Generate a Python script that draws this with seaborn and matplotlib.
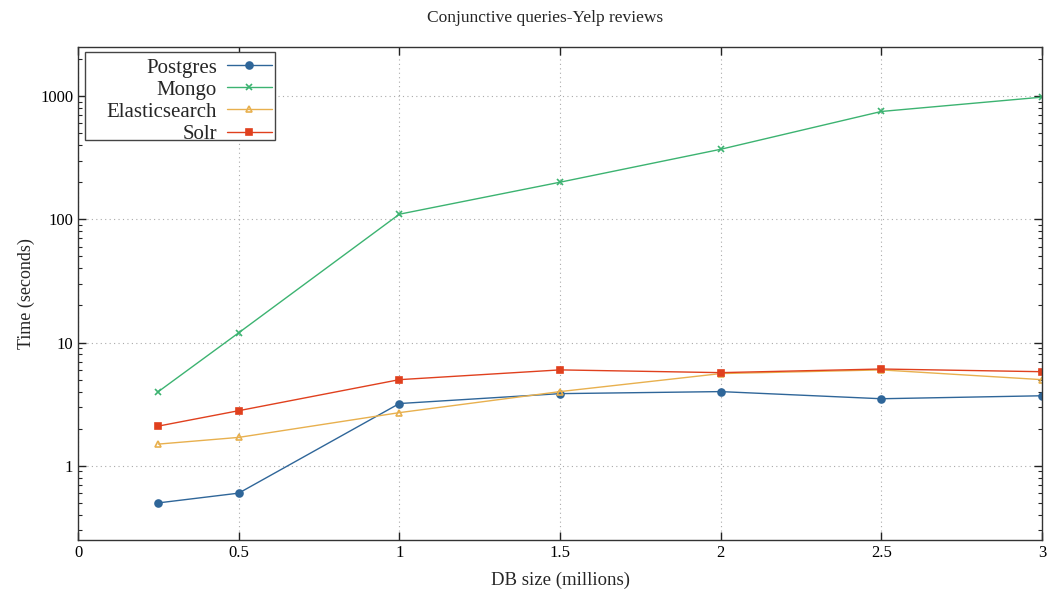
import matplotlib
matplotlib.use("Agg")
import matplotlib.pyplot as plt
import seaborn as sns
import pandas as pd
from matplotlib.patches import Rectangle
from matplotlib.ticker import LogLocator, FixedLocator, NullFormatter

sizes = [0.25, 0.5, 1, 1.5, 2, 2.5, 3]
postgres = [0.5, 0.6, 3.2, 3.85, 4.0, 3.5, 3.7]
mongo = [4, 12, 110, 200, 370, 750, 980]
elasticsearch = [1.5, 1.7, 2.7, 4.0, 5.6, 6.0, 5.0]
solr = [2.1, 2.8, 5.0, 6.0, 5.7, 6.1, 5.8]
series_names = ["Postgres", "Mongo", "Elasticsearch", "Solr"]
x_ticks = [0, 0.5, 1, 1.5, 2, 2.5, 3]
x_tick_labels = ["0", "0.5", "1", "1.5", "2", "2.5", "3"]
y_ticks = [1, 10, 100, 1000]
y_tick_labels = ["1", "10", "100", "1000"]

sns.set_theme(style="ticks")
plt.rcParams["font.family"] = ["Liberation Serif", "DejaVu Serif"]

colors = {"Postgres": "#2f6699", "Mongo": "#3cb371", "Elasticsearch": "#e8b04e", "Solr": "#e0401e"}
markers = {"Postgres": "o", "Mongo": "x", "Elasticsearch": "^", "Solr": "s"}
marker_fill = {"Postgres": None, "Mongo": None, "Elasticsearch": "none", "Solr": None}

fig = plt.figure(figsize=(10.49, 5.99), dpi=100)
ax = fig.add_axes([0.0744, 0.0985, 0.9189, 0.823])

for name, vals in zip(series_names, [postgres, mongo, elasticsearch, solr]):
    d = pd.DataFrame({"size": sizes, "time": vals})
    kw = dict(marker=markers[name], markersize=5, markeredgewidth=1.2,
              markeredgecolor=colors[name])
    if marker_fill[name] == "none":
        kw["markerfacecolor"] = "none"
    sns.lineplot(data=d, x="size", y="time", color=colors[name], linewidth=1,
                 label=name, ax=ax, **kw)

ax.set_yscale("log")
ax.set_xlim(0, 3)
ax.set_ylim(0.25, 2500)
ax.xaxis.set_major_locator(FixedLocator(x_ticks))
ax.set_xticklabels(x_tick_labels)
ax.yaxis.set_major_locator(FixedLocator(y_ticks))
ax.set_yticklabels(y_tick_labels)
ax.yaxis.set_minor_locator(LogLocator(base=10, subs=range(2, 10)))
ax.yaxis.set_minor_formatter(NullFormatter())
ax.tick_params(axis="both", which="major", direction="in", length=6, width=1, labelsize=12,
               top=True, right=True, colors="#222222", labelcolor="black")
ax.tick_params(axis="y", which="minor", direction="in", length=3, width=0.8, right=True, left=True)
ax.grid(True, which="major", linestyle=(0, (1, 3)), color="#aaaaaa", linewidth=0.8)
for s in ax.spines.values():
    s.set_color("#333333")
    s.set_linewidth(1)

ax.set_xlabel("DB size (millions)", fontsize=13.5, labelpad=8)
ax.set_ylabel("Time (seconds)", fontsize=13)
fig.text(545 / 1049, 1 - 18 / 599, "Conjunctive queries-Yelp reviews", fontsize=12.5,
         ha="center", va="center")

# legend box (gnuplot style)
box = Rectangle((0.0073, 0.8114), 0.1971, 0.1785, transform=ax.transAxes,
                facecolor="white", edgecolor="#444444", linewidth=1, zorder=4)
ax.add_patch(box)
leg = ax.legend(loc="upper right", bbox_to_anchor=(0.2012, 0.9777), markerfirst=False,
                fontsize=15, frameon=False, borderaxespad=0, borderpad=0,
                handlelength=2.16, handletextpad=0.48, labelspacing=0.12)
leg.set_zorder(5)
leg._legend_box.align = "right"
for vp in leg._legend_box.get_children()[1].get_children():
    vp.align = "right"

fig.savefig("out.png", dpi=100)
